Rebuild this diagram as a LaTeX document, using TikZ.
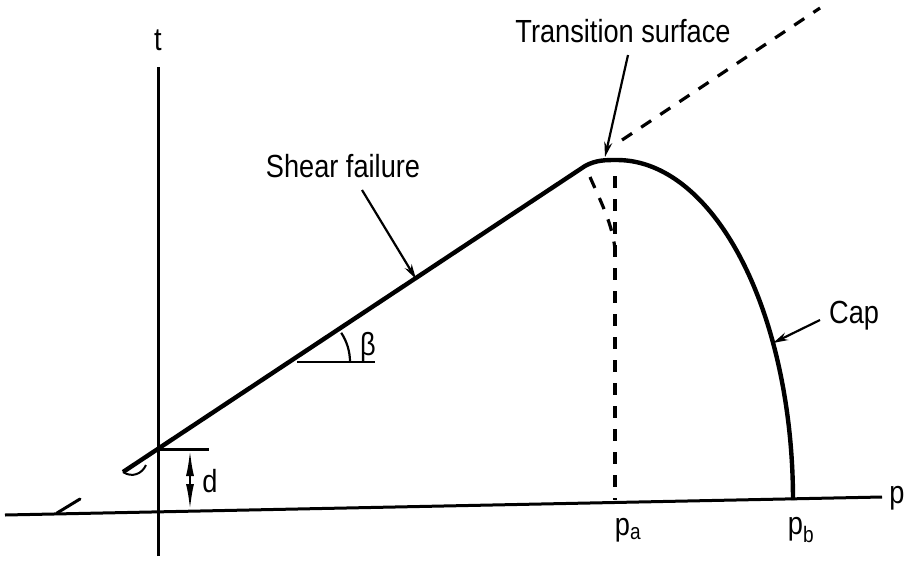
\documentclass[tikz,border=0pt]{standalone}
\usepackage{fontspec}
\setmainfont[FakeStretch=0.85]{Liberation Sans}
\usetikzlibrary{arrows.meta,calc}
\begin{document}
\begin{tikzpicture}[x=1pt,y=-1pt,
  axis/.style={line width=3pt},
  curve/.style={line width=4.4pt,line join=round},
  dashline/.style={line width=3.2pt,dash pattern=on 12pt off 11pt},
  pointer/.style={line width=2.2pt,-{Stealth[length=15pt,width=8pt]}},
  lbl/.style={font=\fontsize{32}{34}\selectfont,inner sep=0pt},
  every node/.style={inner sep=0pt}]
\useasboundingbox (0,0) rectangle (907,560);
% axes
\coordinate (pL) at (5,515);
\coordinate (pR) at (882,497);
\coordinate (tT) at (158,67);
\coordinate (tB) at (158,556);
\draw[axis] (pL) -- (pR);
\draw[axis] (tB) -- (tT);
\coordinate (s1) at (57,513);
\coordinate (s2) at (80,499);
\draw[line width=3pt,line cap=round] (s1) -- (s2);
\node[lbl] (tlab) at (158,40) {t};
\node[lbl] (plab) at (897,498) {p};
% shear failure line and cap
\coordinate (S0) at (123,472);
\coordinate (S1) at (585,166);
\coordinate (Top) at (617,160);
\coordinate (pb) at (793,498);
\draw[curve] (S0) -- (S1) .. controls (596,160) and (605,160) .. (Top)
  -- plot[domain=90:0,samples=60,smooth] ({617+176*cos(\x)},{500-340*sin(\x)});
\draw[line width=2pt] (S0) .. controls (132,478) and (142,474) .. (146,465);
% d
\coordinate (dL) at (158,449);
\coordinate (dR) at (209,449);
\draw[line width=3pt] (dL) -- (dR);
\coordinate (dT) at (190,450);
\coordinate (dB) at (190,510);
\draw[line width=2.2pt,{Latex[length=26pt,width=8pt]}-{Latex[length=26pt,width=8pt]}] (dB) -- (dT);
\node[lbl] (dlab) at (210,481) {d};
% beta
\coordinate (bO) at (297,362);
\coordinate (bE) at (375,362);
\draw[line width=2.8pt] (bO) -- (bE);
\draw[line width=2.2pt] ($(bO)+(53,0)$) arc[start angle=0,end angle=-33.5,radius=53];
\node[lbl] (blab) at (368,347) {β};
% dashed lines
\coordinate (E0) at (622,140);
\coordinate (E1) at (820,8);
\draw[dashline] (E0) -- (E1);
\coordinate (V0) at (615,176);
\coordinate (V1) at (615,500);
\draw[dashline] (V0) -- (V1);
\coordinate (C0) at (590,177);
\coordinate (C1) at (615,250);
\draw[dashline] (C0) .. controls (600,200) and (613,225) .. (C1);
% labels
\node[lbl] (ts) at (623,31) {Transition surface};
\coordinate (tsA) at (628,55);
\coordinate (tsB) at (605,157);
\draw[pointer] (tsA) -- (tsB);
\node[lbl] (sf) at (343,166) {Shear failure};
\coordinate (sfA) at (362,190);
\coordinate (sfB) at (416,279);
\draw[pointer] (sfA) -- (sfB);
\node[lbl,anchor=west] (cap) at (829,316) {Cap};
\coordinate (capA) at (820,320);
\coordinate (capB) at (773,343);
\draw[pointer] (capA) -- (capB);
\node[lbl] (pa) at (628,530) {p\textsubscript{a}};
\node[lbl] (pbl) at (801,530) {p\textsubscript{b}};
\end{tikzpicture}
\end{document}
